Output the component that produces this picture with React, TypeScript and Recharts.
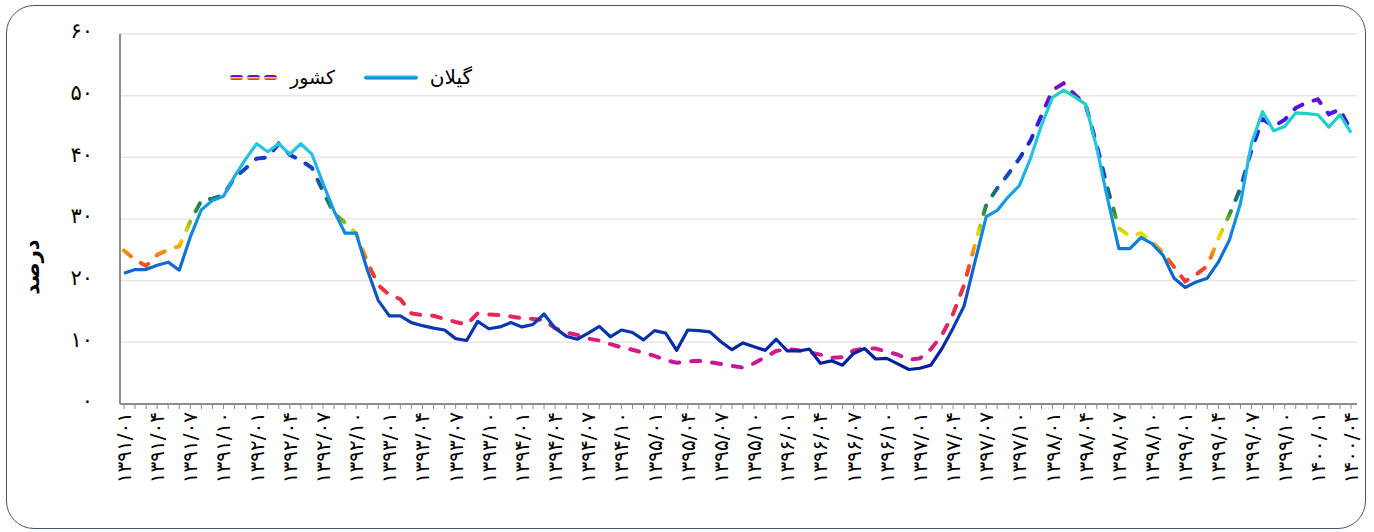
import React from "react";
import { LineChart, Line, XAxis, YAxis, CartesianGrid } from "recharts";

// months 1391/01 .. 1400/04
const years = [1391, 1392, 1393, 1394, 1395, 1396, 1397, 1398, 1399, 1400];
const monthCodes = ["01", "02", "03", "04", "05", "06", "07", "08", "09", "10", "11", "12"];
const lastMonth = "1400/04";

const categories: string[] = [];
for (const y of years) {
  for (const m of monthCodes) {
    if (categories[categories.length - 1] === lastMonth) break;
    categories.push(`${y}/${m}`);
  }
}

// گیلان
const gilan = [
  21.2, 21.8, 21.8, 22.5, 23.0, 21.7, 27.1, 31.5, 33.0, 33.7, 36.9, 39.7,
  42.2, 40.9, 42.2, 40.5, 42.2, 40.5, 35.8, 31.3, 27.7, 27.7, 21.8, 16.8,
  14.3, 14.3, 13.2, 12.7, 12.3, 12.0, 10.6, 10.3, 13.4, 12.2, 12.5, 13.2,
  12.5, 12.9, 14.6, 12.3, 11.0, 10.5, 11.5, 12.6, 10.9, 12.0, 11.6, 10.4,
  11.9, 11.5, 8.7, 12.0, 11.9, 11.7, 10.1, 8.8, 9.9, 9.3, 8.7, 10.5,
  8.6, 8.6, 8.9, 6.6, 7.0, 6.3, 8.2, 9.0, 7.3, 7.4, 6.5, 5.6,
  5.8, 6.3, 9.0, 12.3, 15.9, 23.2, 30.4, 31.4, 33.6, 35.4, 39.8, 45.2,
  49.7, 50.9, 49.8, 48.6, 41.5, 33.1, 25.2, 25.2, 27.0, 26.0, 24.1, 20.4,
  18.9, 19.8, 20.4, 23.0, 26.6, 32.5, 42.3, 47.4, 44.3, 45.0, 47.2, 47.1,
  46.9, 44.9, 46.9, 44.0,
];

// کشور
const keshvar = [
  24.9, 23.4, 22.4, 24.2, 25.0, 25.6, 29.6, 33.0, 33.3, 33.9, 36.7, 38.2,
  39.8, 40.0, 42.2, 40.4, 39.5, 38.3, 34.5, 30.9, 29.4, 27.7, 23.1, 19.3,
  17.7, 17.0, 14.7, 14.4, 14.3, 13.8, 13.3, 12.9, 14.7, 14.5, 14.4, 14.2,
  13.9, 13.8, 13.6, 12.3, 11.6, 11.2, 10.6, 10.3, 9.7, 9.2, 8.8, 8.3,
  7.8, 7.1, 6.7, 6.9, 7.0, 6.8, 6.5, 6.2, 5.9, 6.6, 7.6, 8.6,
  8.9, 8.7, 8.4, 8.0, 7.5, 7.6, 8.7, 9.0, 9.0, 8.5, 8.0, 7.2,
  7.4, 8.9, 11.2, 14.6, 19.3, 26.0, 32.3, 35.0, 37.3, 39.8, 42.7, 46.8,
  50.9, 52.0, 50.2, 48.5, 42.0, 34.8, 28.5, 27.2, 27.7, 26.3, 24.6, 22.2,
  19.9, 21.0, 22.4, 26.8, 30.7, 35.0, 41.2, 46.2, 45.0, 46.1, 48.0, 48.9,
  49.4, 47.0, 47.8, 44.3,
];

const yTicks = [0, 10, 20, 30, 40, 50, 60];

const data = categories.map((month, i) => ({
  month,
  gilan: gilan[i],
  keshvar: keshvar[i],
}));

// colour by value, like the excel gradient lines
const gilanStops: [number, string][] = [
  [60, "#1ad8b6"], [51, "#1ad6b8"], [46, "#1ecfcc"], [41, "#28c2e6"], [35, "#1aa6e2"],
  [29, "#118be0"], [24, "#0d72d6"], [19, "#0e5cc8"], [13, "#0b3ab4"], [8, "#06209e"],
  [0, "#041896"],
];
const keshvarStops: [number, string][] = [
  [60, "#8010bc"], [52, "#7c0cbc"], [48.5, "#6010d8"], [45.5, "#3a18ee"], [42, "#1428e0"],
  [38, "#1048c0"], [35, "#1a5e98"], [33, "#187a62"], [31, "#3a9038"], [29.5, "#8cbc18"],
  [28, "#d8dc00"], [27, "#f4d800"], [26, "#f8b400"], [24.5, "#f68a10"], [23, "#f05a1c"],
  [21, "#ee3c2c"], [18, "#ec2e44"], [14, "#e62856"], [10, "#d8207c"], [6, "#c014a4"],
  [0, "#a810b0"],
];

const W = 1374;
const H = 532;
const PLOT_TOP = 34;
const PLOT_BOTTOM = 404;
const Y_MAX = 60;
const FONT = "'DejaVu Sans', 'Noto Sans', sans-serif";

const toFa = (s: string) => s.replace(/\d/g, (d) => "۰۱۲۳۴۵۶۷۸۹"[Number(d)]);

const MonthTick = (props: any) => {
  const { x, y, payload, index } = props;
  return (
    <g>
      <line x1={x} y1={y} x2={x} y2={y + 5} stroke="#8c8c8c" strokeWidth={1} />
      {index % 3 === 0 && (
        <text
          x={x}
          y={y + 8}
          transform={`rotate(-90, ${x}, ${y + 8})`}
          textAnchor="end"
          dy="0.35em"
          fontSize={20}
          fontFamily={FONT}
          fill="#000"
        >
          {toFa(payload.value)}
        </text>
      )}
    </g>
  );
};

const gradient = (id: string, stops: [number, string][]) => (
  <linearGradient id={id} gradientUnits="userSpaceOnUse" x1={0} y1={PLOT_TOP} x2={0} y2={PLOT_BOTTOM}>
    {stops.map(([v, c]) => (
      <stop key={v} offset={(Y_MAX - v) / Y_MAX} stopColor={c} />
    ))}
  </linearGradient>
);

export default function App() {
  return (
    <div style={{ position: "absolute", left: 0, top: 0, width: W, height: H, background: "#fff" }}>
      <div
        style={{
          position: "absolute",
          left: 6,
          top: 5,
          width: 1360,
          height: 524,
          border: "1.5px solid #44546a",
          borderRadius: 28,
          boxSizing: "border-box",
        }}
      />
      <LineChart
        width={W}
        height={H}
        data={data}
        margin={{ top: PLOT_TOP, right: 17, bottom: 0, left: 0 }}
        style={{ position: "absolute", left: 0, top: 0 }}
      >
        <defs>
          {gradient("gilanGrad", gilanStops)}
          {gradient("keshvarGrad", keshvarStops)}
        </defs>
        <CartesianGrid vertical={false} stroke="#e6e6e6" strokeWidth={1.5} />
        <XAxis
          dataKey="month"
          interval={0}
          height={128}
          tickLine={false}
          tickSize={0}
          tickMargin={0}
          padding={{ left: 4, right: 6 }}
          axisLine={{ stroke: "#8c8c8c", strokeWidth: 2 }}
          tick={<MonthTick />}
        />
        <YAxis
          domain={[0, Y_MAX]}
          ticks={yTicks}
          width={120}
          tickLine={false}
          tickSize={0}
          tickMargin={27}
          axisLine={{ stroke: "#8c8c8c", strokeWidth: 2 }}
          tick={{ fontSize: 21, fill: "#000", fontFamily: FONT, dy: -3 }}
          tickFormatter={(v: number) => toFa(String(v))}
        />
        <Line
          type="linear"
          dataKey="keshvar"
          stroke="url(#keshvarGrad)"
          strokeWidth={4}
          strokeDasharray="9 12"
          strokeLinecap="round"
          dot={false}
          isAnimationActive={false}
        />
        <Line
          type="linear"
          dataKey="gilan"
          stroke="url(#gilanGrad)"
          strokeWidth={3.2}
          strokeLinejoin="round"
          dot={false}
          isAnimationActive={false}
        />
      </LineChart>
      <svg width={W} height={H} style={{ position: "absolute", left: 0, top: 0, pointerEvents: "none" }}>
        <defs>
          <linearGradient id="legGilan" x1="0" y1="0" x2="0" y2="1">
            <stop offset="0" stopColor="#28c8e8" />
            <stop offset="1" stopColor="#1070d0" />
          </linearGradient>
          <linearGradient id="legKeshvar" x1="0" y1="0" x2="0" y2="1">
            <stop offset="0" stopColor="#6a10d8" />
            <stop offset="0.4" stopColor="#6a10d8" />
            <stop offset="0.5" stopColor="#f2d800" />
            <stop offset="0.65" stopColor="#f2d800" />
            <stop offset="0.75" stopColor="#ee2e44" />
            <stop offset="1" stopColor="#ee2e44" />
          </linearGradient>
        </defs>
        <text
          x={32}
          y={267}
          transform="rotate(-90, 32, 267)"
          textAnchor="middle"
          dy="0.35em"
          fontSize={21}
          fontWeight="bold"
          fontFamily={FONT}
        >
          درصد
        </text>
        <rect x={364} y={75.5} width={54} height={4} rx={2} fill="url(#legGilan)" />
        <text x={472} y={77} textAnchor="end" dy="0.35em" fontSize={20} fontFamily={FONT}>
          گیلان
        </text>
        {[0, 1, 2].map((k) => (
          <rect key={k} x={230 + k * 17} y={75} width={13} height={5} rx={2.5} fill="url(#legKeshvar)" />
        ))}
        <text x={335} y={77} textAnchor="end" dy="0.35em" fontSize={19} fontFamily={FONT}>
          کشور
        </text>
      </svg>
    </div>
  );
}
